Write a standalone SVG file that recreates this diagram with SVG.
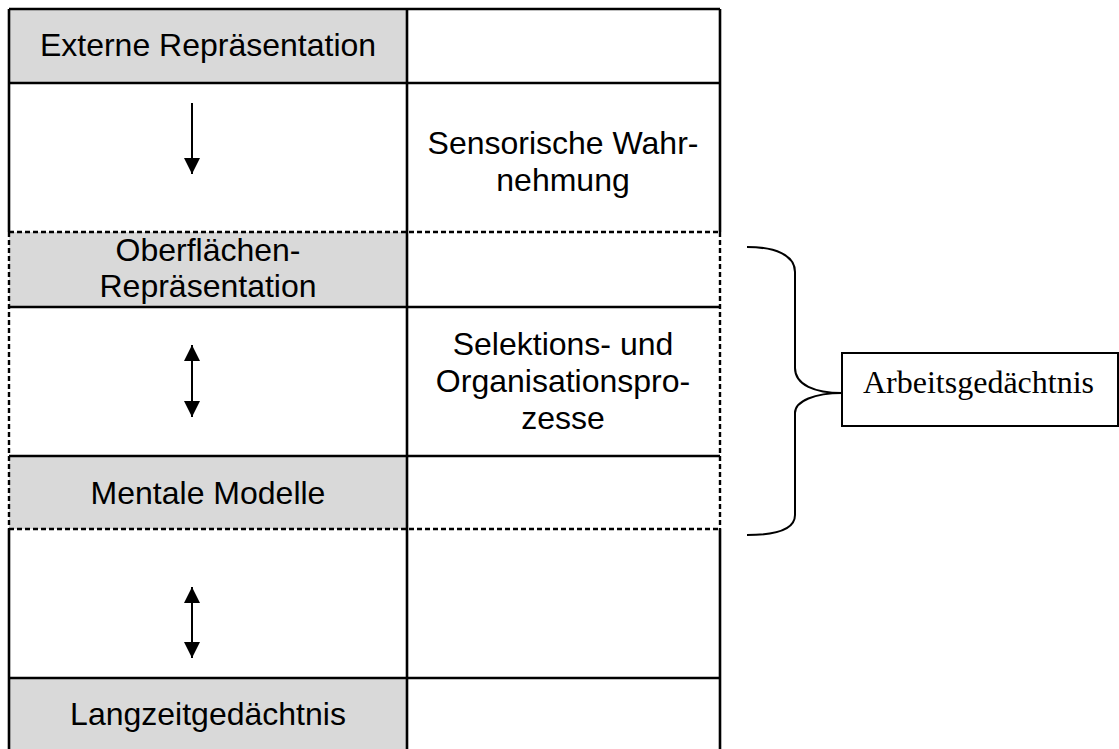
<svg xmlns="http://www.w3.org/2000/svg" width="1119" height="749" viewBox="0 0 1119 749">
  <style>
    .shade { fill: #d9d9d9; stroke: none; }
    .solid { stroke: #000; stroke-width: 2.6; fill: none; }
    .dash { stroke: #000; stroke-width: 2.4; fill: none; stroke-dasharray: 5 3; }
    .lbl { font-family: "Liberation Sans", Arial, sans-serif; font-size: 32px; fill: #000; text-anchor: middle; }
    .serif { font-family: "Liberation Serif", "Times New Roman", serif; font-size: 32px; fill: #000; }
    .arrow { stroke: #000; stroke-width: 2; fill: none; }
    .brace { stroke: #000; stroke-width: 2; fill: none; }
  </style>
  <defs>
    <marker id="head" viewBox="0 0 16 16" refX="16" refY="8" markerWidth="16" markerHeight="16" markerUnits="userSpaceOnUse" orient="auto-start-reverse">
      <path d="M0,0 L16,8 L0,16 Z" fill="#000"/>
    </marker>
  </defs>
  <rect width="1119" height="749" fill="#fff"/>

  <!-- shaded cells of the left column -->
  <rect class="shade" x="9" y="9" width="398" height="74"/>
  <rect class="shade" x="9" y="232" width="398" height="75"/>
  <rect class="shade" x="9" y="456" width="398" height="73"/>
  <rect class="shade" x="9" y="678" width="398" height="71"/>

  <!-- table grid -->
  <g id="grid">
    <path class="solid" d="M9,9 H720 M9,83 H720 M9,307 H720 M9,456 H720 M9,678 H720"/>
    <path class="dash" d="M9,232 H720 M9,529 H720"/>
    <path class="solid" d="M407,9 V749"/>
    <path class="solid" d="M9,9 V232 M9,529 V749 M720,9 V232 M720,529 V749"/>
    <path class="dash" d="M9,232 V529 M720,232 V529"/>
  </g>

  <g id="externe-repraesentation">
    <text class="lbl" x="208" y="56">Externe Repräsentation</text>
  </g>
  <g id="sensorische-wahrnehmung">
    <text class="lbl" x="563" y="154">Sensorische Wahr-</text>
    <text class="lbl" x="563" y="191">nehmung</text>
  </g>
  <g id="oberflaechen-repraesentation">
    <text class="lbl" x="208" y="261">Oberflächen-</text>
    <text class="lbl" x="208" y="297">Repräsentation</text>
  </g>
  <g id="selektion-organisation">
    <text class="lbl" x="563" y="355">Selektions- und</text>
    <text class="lbl" x="563" y="392">Organisationspro-</text>
    <text class="lbl" x="563" y="429">zesse</text>
  </g>
  <g id="mentale-modelle">
    <text class="lbl" x="208" y="504">Mentale Modelle</text>
  </g>
  <g id="langzeitgedaechtnis">
    <text class="lbl" x="208" y="725">Langzeitgedächtnis</text>
  </g>
  <g id="arbeitsgedaechtnis">
    <rect x="842" y="353" width="276" height="73" fill="#fff" stroke="#000" stroke-width="2"/>
    <text class="serif" x="863" y="393">Arbeitsgedächtnis</text>
  </g>

  <g id="connectors">
    <path class="arrow" d="M192,103 V174" marker-end="url(#head)"/>
    <path class="arrow" d="M192,345 V417" marker-start="url(#head)" marker-end="url(#head)"/>
    <path class="arrow" d="M192,587 V658" marker-start="url(#head)" marker-end="url(#head)"/>
    <path class="brace" d="M747,247 C775,247 795,255 795,272 L795,368 C795,385 815,393 842,393 C815,393 795,401 795,413 L795,515 C795,530 775,535 747,535"/>
  </g>
</svg>
